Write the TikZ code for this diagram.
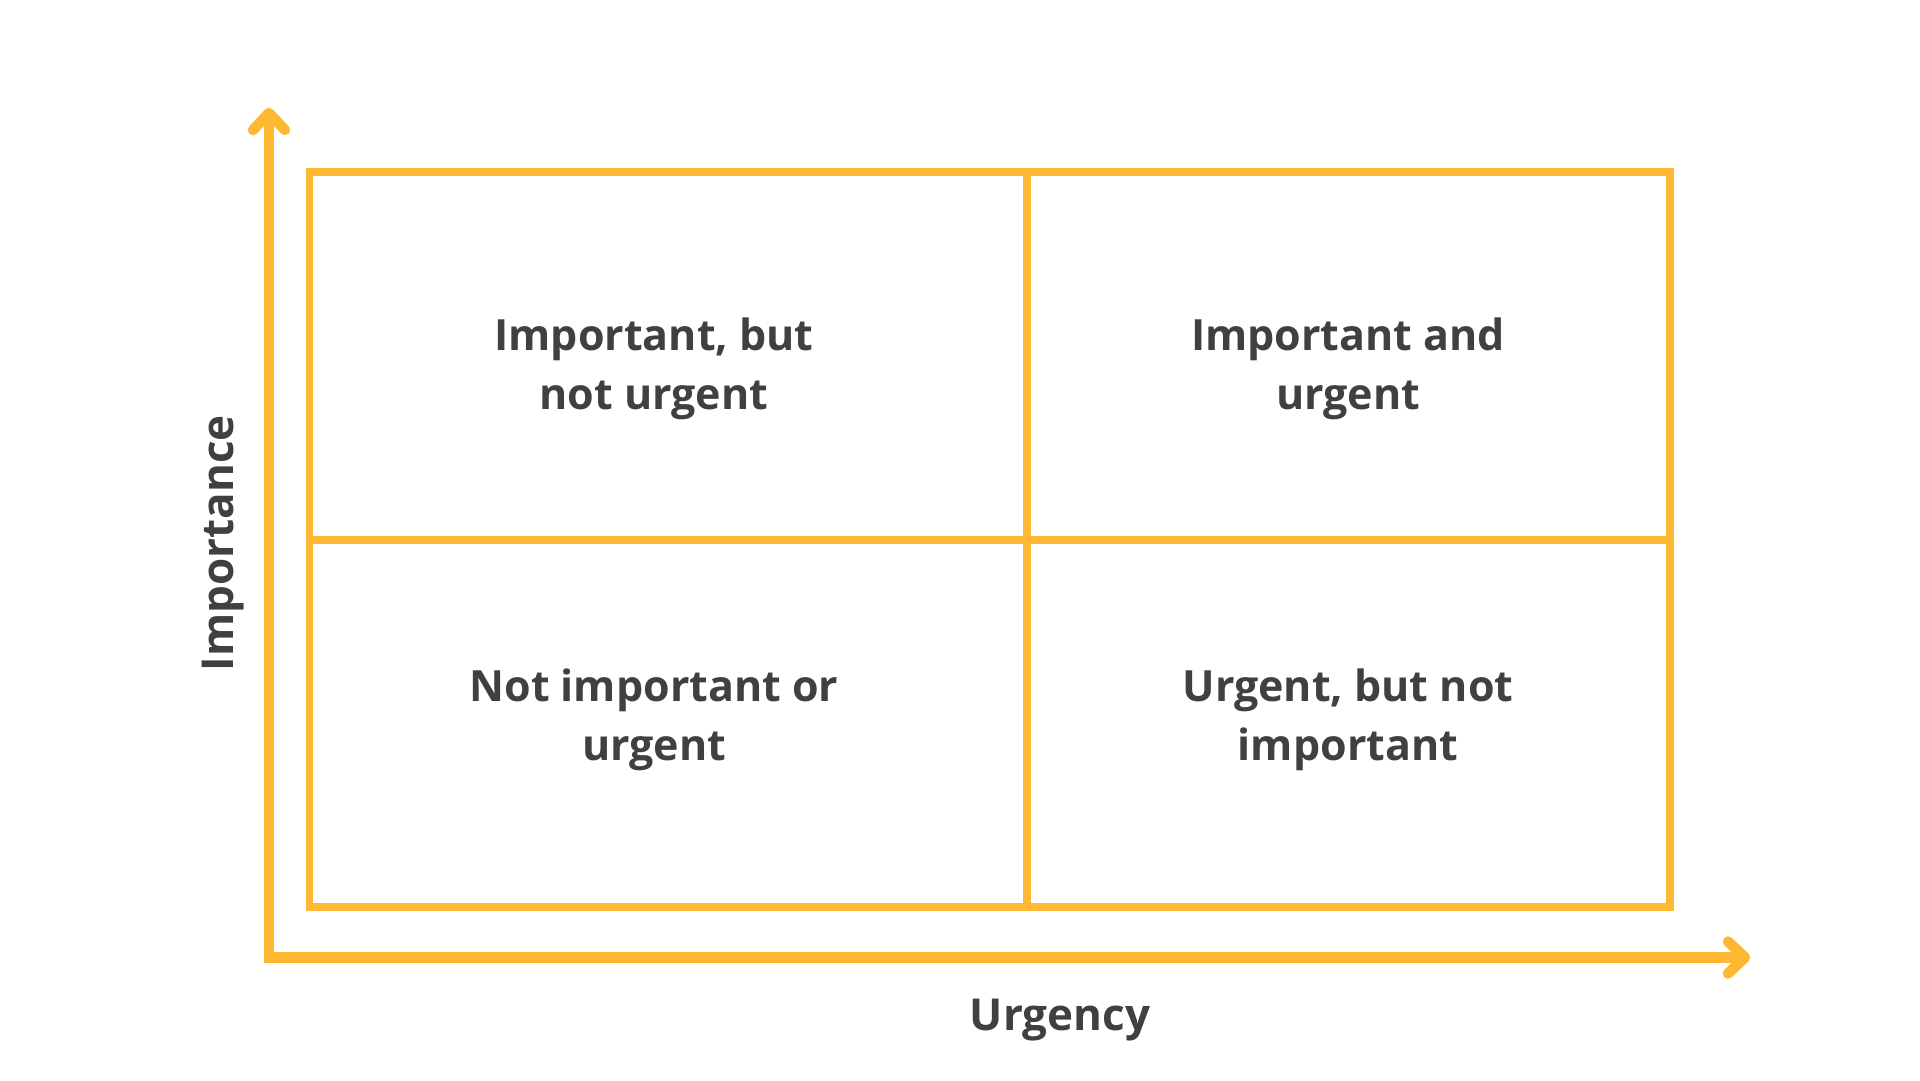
\documentclass[tikz,border=0pt]{standalone}
\usepackage{fontspec}
\usetikzlibrary{calc}
\setmainfont{Open Sans}
\definecolor{axisyellow}{HTML}{FFB833}
\definecolor{txtgray}{HTML}{404040}
\begin{document}
\begin{tikzpicture}[x=1pt,y=-1pt,
  gridline/.style={draw=axisyellow,line width=7.5pt},
  axisline/.style={draw=axisyellow,line width=10.5pt,line join=miter},
  axishead/.style={draw=axisyellow,line width=10.5pt,line cap=round,line join=round},
  quadtext/.style={text=txtgray,font=\fontsize{43}{59}\selectfont\bfseries,align=center},
  axistext/.style={text=txtgray,font=\fontsize{44}{50}\selectfont\bfseries}]
\useasboundingbox (0,0) rectangle (1920,1080);
% grid
\draw[gridline] (309.5,172) rectangle (1670,907);
\draw[gridline] (1027,172) -- (1027,907);
\draw[gridline] (309.5,540) -- (1670,540);
% axes
\coordinate (top) at (269,113);
\coordinate (corner) at (269,957.5);
\coordinate (right) at (1745,957.5);
\draw[axisline] (top) -- (corner) -- (right);
\draw[axishead] ($(top)+(-16,17)$) -- (top) -- ($(top)+(16,17)$);
\draw[axishead] ($(right)+(-17,-16)$) -- (right) -- ($(right)+(-17,16)$);
% labels
\node[quadtext] (q1) at (654,369) {Important, but\\not urgent};
\node[quadtext] (q2) at (1348,369) {Important and\\urgent};
\node[quadtext] (q3) at (654,720) {Not important or\\urgent};
\node[quadtext] (q4) at (1348,720) {Urgent, but not\\important};
\node[axistext] (xl) at (1060,1020) {Urgency};
\node[axistext,rotate=90] (yl) at (223,543) {Importance};
\end{tikzpicture}
\end{document}
